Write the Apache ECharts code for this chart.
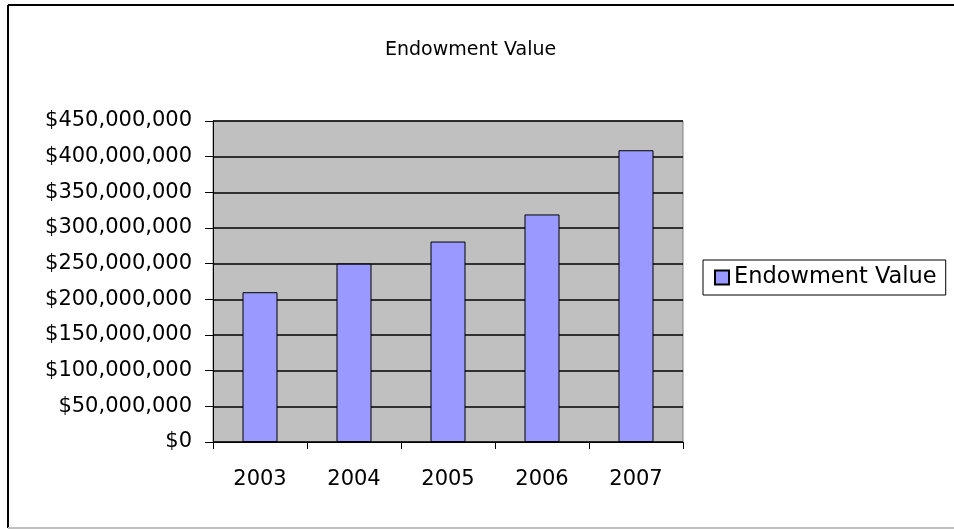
<!DOCTYPE html>
<html>
<head>
<meta charset="utf-8">
<script src="https://cdn.jsdelivr.net/npm/echarts@6/dist/echarts.min.js"></script>
<style>
  html, body { margin: 0; padding: 0; background: #fff; }
  #chart { width: 954px; height: 529px; }
</style>
</head>
<body>
<div id="chart"></div>
<script>
    // data
    var years = ['2003', '2004', '2005', '2006', '2007'];
    var endowment = [210000000, 250000000, 281000000, 319000000, 409000000];
    var seriesName = 'Endowment Value';

    var font = 'DejaVu Sans';

    function money(v) {
        // $450,000,000 style
        return '$' + String(v).replace(/\B(?=(\d{3})+(?!\d))/g, ',');
    }

    var chart = echarts.init(document.getElementById('chart'));
    var option = {
        animation: false,
        backgroundColor: '#fff',
        title: {
            text: 'Endowment Value',
            left: 380,
            top: 36,
            textStyle: { fontFamily: font, fontSize: 19, fontWeight: 'normal', color: '#000' }
        },
        legend: {
            orient: 'vertical',
            left: 703,
            top: 260,
            padding: [6, 9, 6, 11],
            borderColor: '#000',
            borderWidth: 1,
            itemWidth: 14,
            itemHeight: 14,
            icon: 'rect',
            textStyle: { fontFamily: font, fontSize: 22.5, color: '#000' },
            data: [seriesName]
        },
        grid: {
            left: 213,
            right: 271,
            top: 121,
            bottom: 87,
            show: true,
            backgroundColor: '#c0c0c0',
            borderColor: '#808080',
            borderWidth: 1
        },
        xAxis: {
            type: 'category',
            data: years,
            axisLine: { lineStyle: { color: '#000', width: 1 } },
            axisTick: { show: true, length: 7, lineStyle: { color: '#000' } },
            axisLabel: { margin: 27, fontFamily: font, fontSize: 21, color: '#000' }
        },
        yAxis: {
            type: 'value',
            min: 0,
            max: 450000000,
            interval: 50000000,
            axisLine: { show: true, lineStyle: { color: '#000', width: 1 } },
            axisTick: { show: true, length: 8, lineStyle: { color: '#000' } },
            axisLabel: {
                margin: 21,
                fontFamily: font,
                fontSize: 21,
                color: '#000',
                formatter: money
            },
            splitLine: { lineStyle: { color: '#000', width: 1.5 } }
        },
        series: [{
            name: seriesName,
            type: 'bar',
            barWidth: 35,
            data: endowment,
            itemStyle: { color: '#9999ff', borderColor: '#000', borderWidth: 1 }
        }],
        // outer frame of the original chart object
        graphic: [
            { type: 'line', shape: { x1: 8, y1: 5, x2: 954, y2: 5 }, style: { stroke: '#000', lineWidth: 2 } },
            { type: 'line', shape: { x1: 8, y1: 5, x2: 8, y2: 528 }, style: { stroke: '#000', lineWidth: 2 } },
            { type: 'line', shape: { x1: 8, y1: 528, x2: 954, y2: 528 }, style: { stroke: '#c0c0c0', lineWidth: 2 } }
        ]
    };
    chart.setOption(option);
</script>
</body>
</html>
